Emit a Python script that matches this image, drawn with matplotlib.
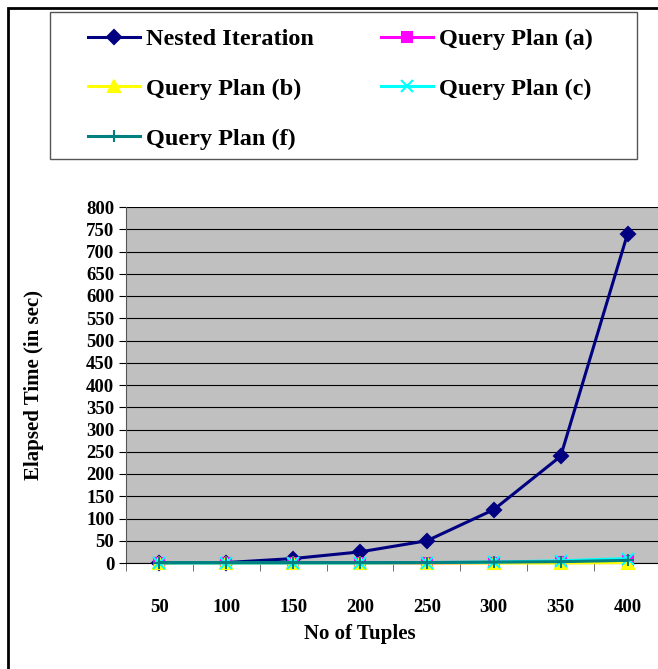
import numpy as np
import matplotlib.pyplot as plt
from matplotlib.patches import Rectangle

tuples = ['50', '100', '150', '200', '250', '300', '350', '400']
nested = [0, 1, 10, 25, 50, 120, 240, 740]
plan_a = [0, 0, 0, 0, 0, 1, 2, 5]
plan_b = [0, 0, 0, 0, 0, 0, 0, 1]
plan_c = [0, 0, 0, 0, 1, 2, 5, 10]
plan_f = [1, 1, 1, 1, 1, 2, 3, 6]

plt.rcParams['font.family'] = 'Liberation Serif'
plt.rcParams['font.weight'] = 'bold'

W, H = 658, 669
fig = plt.figure(figsize=(W / 100, H / 100), dpi=100)
# outer chart border (cut off on the right and bottom)
fig.patches.append(Rectangle((8 / W, -0.01), 1.0, 1 - 8 / H + 0.01, transform=fig.transFigure,
                             fill=False, edgecolor='black', linewidth=2))
# legend frame
fig.patches.append(Rectangle((50 / W, 1 - 159 / H), 587 / W, 147 / H, transform=fig.transFigure,
                             fill=False, edgecolor='#555555', linewidth=1.0))

ax = fig.add_axes([126 / W, 106 / H, 535 / W, 356 / H])
ax.set_facecolor('#C0C0C0')
x = np.arange(len(tuples))

series = [
    ('Nested Iteration', nested, '#000080', 'D', 7),
    ('Query Plan (a)', plan_a, '#FF00FF', 's', 7),
    ('Query Plan (b)', plan_b, '#FFFF00', '^', 8),
    ('Query Plan (c)', plan_c, '#00FFFF', 'x', 8),
    ('Query Plan (f)', plan_f, '#008080', '+', 9),
]
handles = {}
for name, vals, col, mk, ms in series:
    h, = ax.plot(x, vals, color=col, marker=mk, markersize=ms, linewidth=2.2,
                 markeredgewidth=1.5, label=name, clip_on=False, zorder=3)
    handles[name] = h

ax.set_xlim(-0.5, len(tuples) - 0.5)
ax.set_ylim(0, 800)
ax.set_yticks(np.arange(0, 801, 50))
ax.yaxis.grid(True, color='black', linewidth=0.8)
ax.set_axisbelow(True)
ax.set_xticks(x)
ax.set_xticklabels(tuples, fontsize=13.5, fontweight='bold')
ax.tick_params(axis='x', length=0, pad=26)
ax.set_xticks(np.arange(-0.5, len(tuples)), minor=True)
ax.tick_params(axis='x', which='minor', length=6, direction='out', color='#555555')
ax.tick_params(axis='y', labelsize=13.5, length=5, direction='out')
for lbl in ax.get_yticklabels():
    lbl.set_fontweight('bold')
for s in ['top', 'right']:
    ax.spines[s].set_visible(False)
ax.spines['left'].set_color('#555555')
ax.spines['bottom'].set_color('black')

ax.set_xlabel('No of Tuples', fontsize=15, fontweight='bold')
ax.set_ylabel('Elapsed Time (in sec)', fontsize=15, fontweight='bold')
ax.xaxis.set_label_coords(0.437, -0.172)
ax.yaxis.set_label_coords(-0.154, 0.5)

order = ['Nested Iteration', 'Query Plan (b)', 'Query Plan (f)', 'Query Plan (a)', 'Query Plan (c)']
leg = fig.legend([handles[n] for n in order], order, ncol=2, loc='upper left',
                 bbox_to_anchor=(88 / W, 1 - 28 / H),
                 fontsize=17.5, frameon=False, handlelength=2.15, handletextpad=0.25,
                 borderpad=0, labelspacing=1.15, columnspacing=2.75, borderaxespad=0)
for t in leg.get_texts():
    t.set_fontweight('bold')

fig.savefig('out.png', dpi=100)
